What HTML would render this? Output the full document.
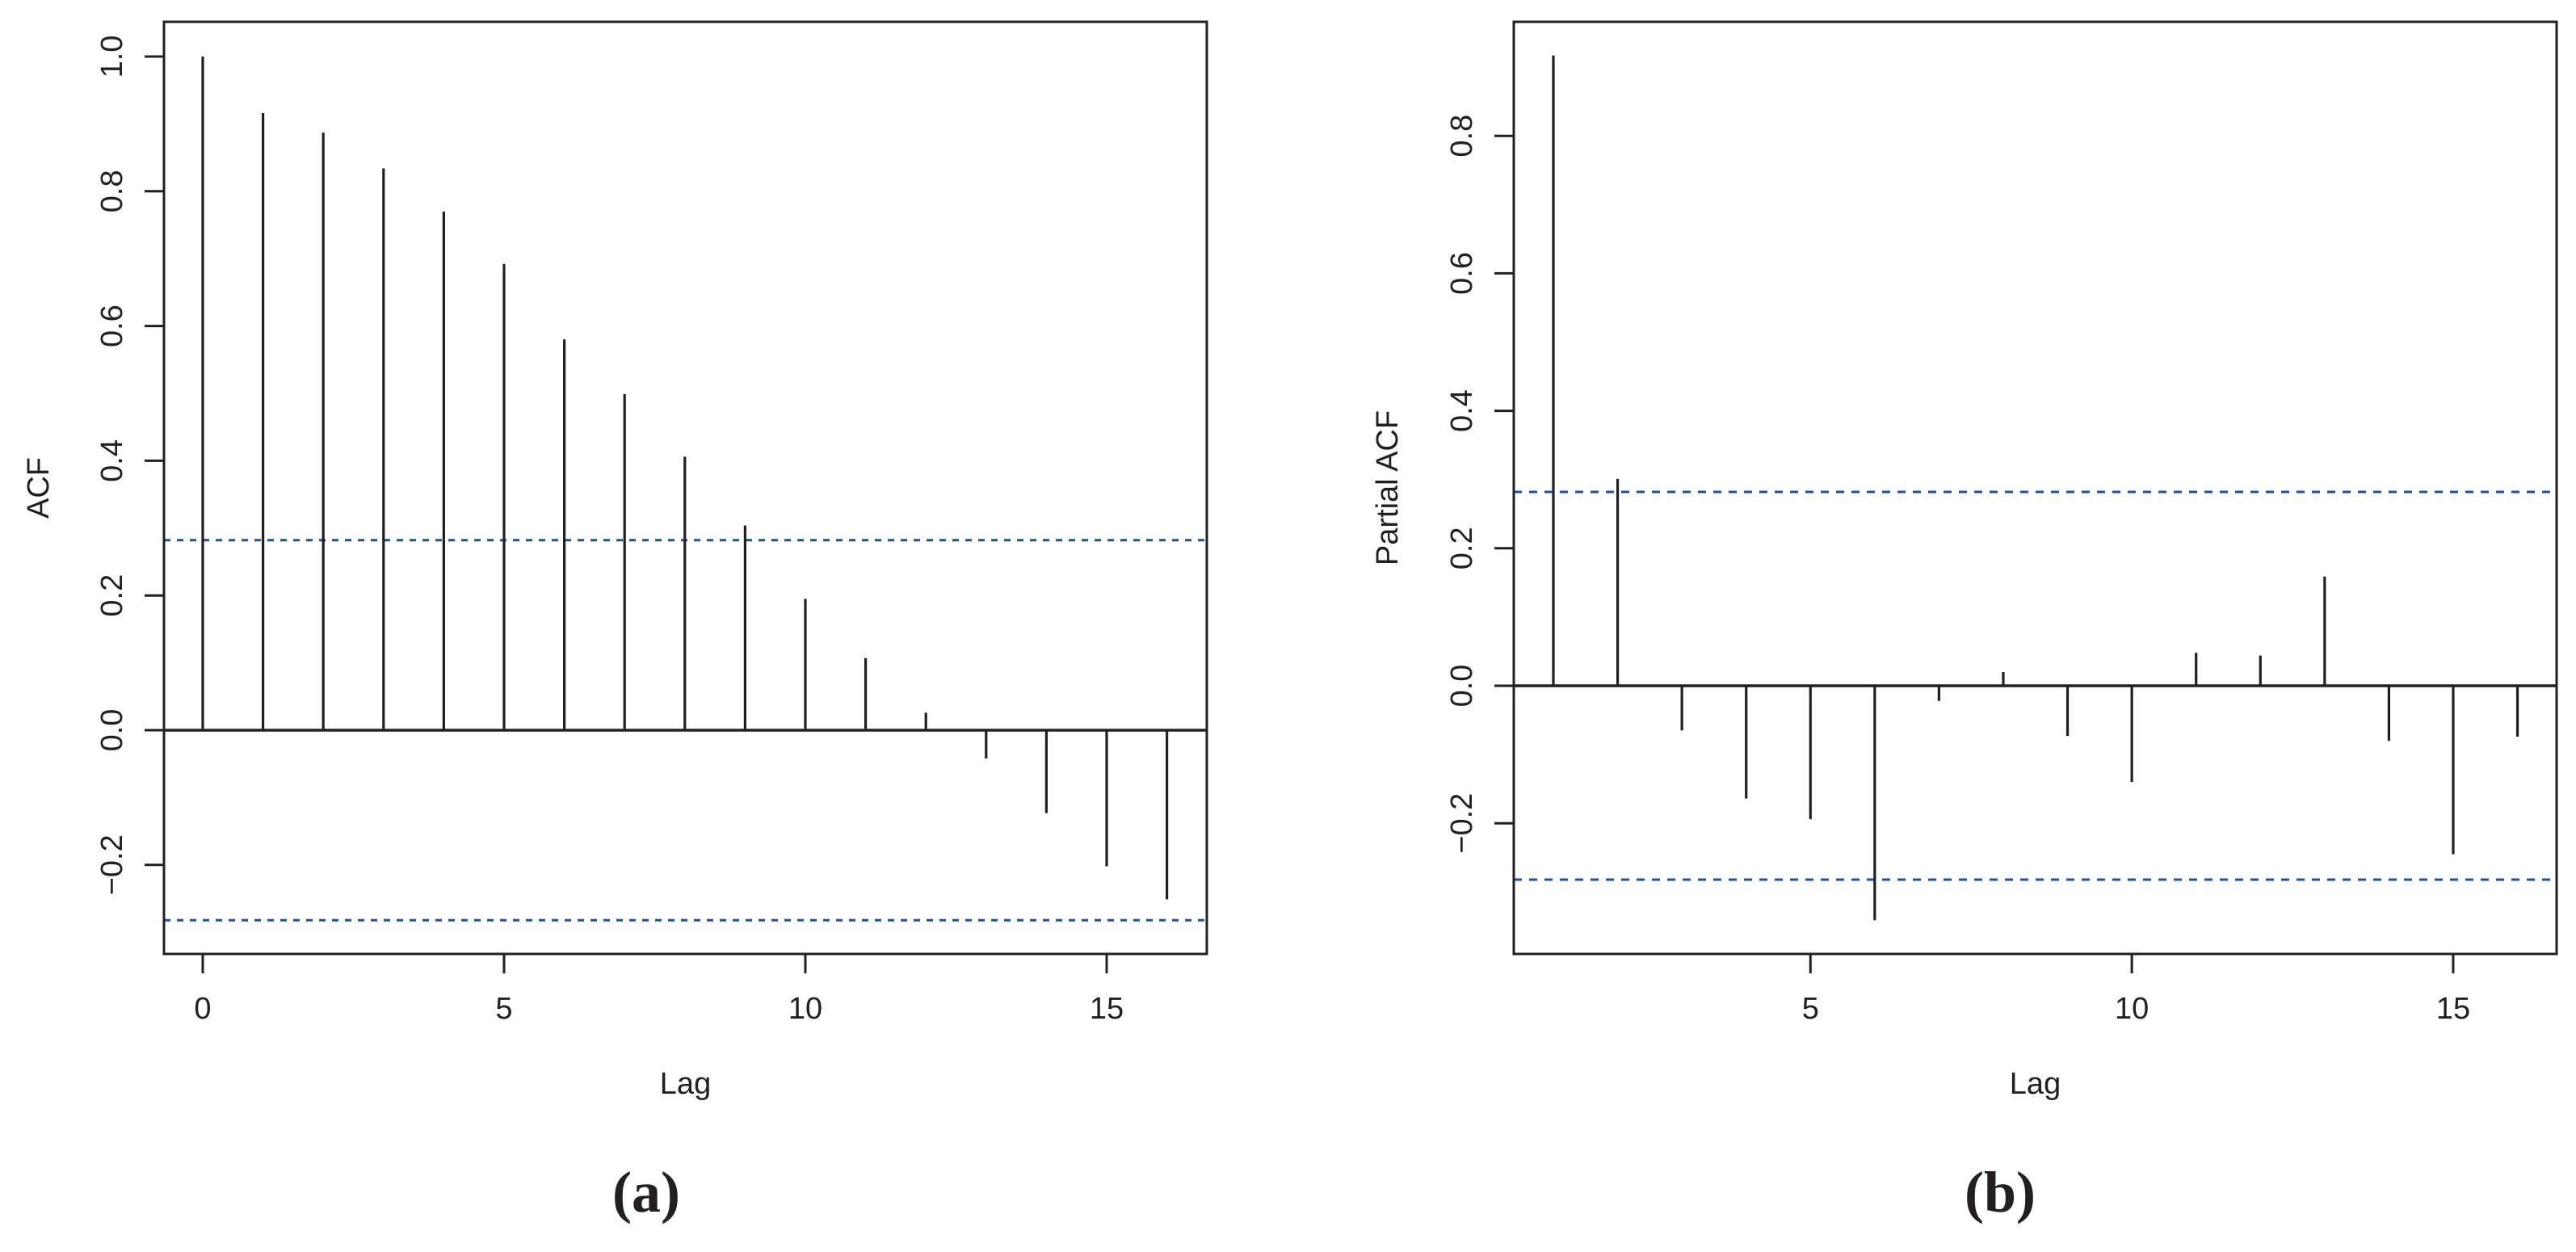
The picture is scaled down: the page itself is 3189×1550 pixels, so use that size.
<!DOCTYPE html>
<html><head><meta charset="utf-8">
<style>
html,body{margin:0;padding:0;background:#fff;}
svg{display:block;}
text{font-family:"Liberation Sans",sans-serif;fill:#231f20;}
.cap{font-family:"Liberation Serif",serif;font-weight:bold;font-size:72px;}
</style></head>
<body>
<svg id="chart" width="3189" height="1550" viewBox="0 0 3189 1550" xmlns="http://www.w3.org/2000/svg"></svg>
<script>
const acfLags = [0,1,2,3,4,5,6,7,8,9,10,11,12,13,14,15,16];
const acfValues = [1.0,0.916,0.887,0.834,0.770,0.692,0.580,0.499,0.406,0.304,0.195,0.107,0.026,-0.042,-0.123,-0.202,-0.251];
const pacfLags = [1,2,3,4,5,6,7,8,9,10,11,12,13,14,15,16];
const pacfValues = [0.917,0.301,-0.065,-0.164,-0.194,-0.341,-0.022,0.020,-0.073,-0.140,0.048,0.044,0.159,-0.080,-0.245,-0.074];
const ciBound = 0.282;
const acfXTicks = [0,5,10,15];
const pacfXTicks = [5,10,15];
const acfYTicks = [-0.2,0.0,0.2,0.4,0.6,0.8,1.0];
const pacfYTicks = [-0.2,0.0,0.2,0.4,0.6,0.8];

const svg = document.getElementById('chart');
const NS = 'http://www.w3.org/2000/svg';
function mk(tag, attrs, parent){const e=document.createElementNS(NS,tag);for(const k in attrs)e.setAttribute(k,attrs[k]);(parent||svg).appendChild(e);return e;}

function panel(cfg){
  const g = mk('g',{});
  
  
  const xs = v => cfg.x0 + (v - cfg.xRef0) * cfg.xStep;
  const ys = v => cfg.yZero - v * cfg.yUnit;
  [ciBound, -ciBound].forEach((c,i)=>{
    const l = mk('line',{x1:cfg.L,x2:cfg.R,y1:ys(c),y2:ys(c),stroke:'#2050a0','stroke-width':3,'stroke-dasharray':cfg.dash},g);
    
    
  });
  const z = mk('line',{x1:cfg.L,x2:cfg.R,y1:ys(0),y2:ys(0),stroke:'#231f20','stroke-width':3.5},g);
  
  
  cfg.lags.forEach((lag,i)=>{
    const s = mk('line',{x1:xs(lag),x2:xs(lag),y1:ys(0),y2:ys(cfg.vals[i]),stroke:'#231f20','stroke-width':3.2},g);
    
    
  });
  const b = mk('rect',{x:cfg.L,y:cfg.T,width:cfg.R-cfg.L,height:cfg.B-cfg.T,fill:'none',stroke:'#231f20','stroke-width':3},g);
  
  
  cfg.xTicks.forEach(t=>{
    const tl = mk('line',{x1:xs(t),x2:xs(t),y1:cfg.B,y2:cfg.B+24,stroke:'#231f20','stroke-width':3},g);
    
    
    const tx = mk('text',{x:xs(t),y:cfg.B+80,'text-anchor':'middle','font-size':38},g);
    tx.textContent = t;
    
    
  });
  cfg.yTicks.forEach(t=>{
    const tl = mk('line',{x1:cfg.L-24,x2:cfg.L,y1:ys(t),y2:ys(t),stroke:'#231f20','stroke-width':3},g);
    
    
    const ty = ys(t), tx0 = cfg.L-52;
    const tx = mk('text',{x:tx0,y:ty,'text-anchor':'middle','font-size':38,transform:`rotate(-90 ${tx0} ${ty})`},g);
    tx.textContent = (t<0?'\u2212':'') + Math.abs(t).toFixed(1);
    
    
  });
  const xt = mk('text',{x:(cfg.L+cfg.R)/2,y:1354,'text-anchor':'middle','font-size':38},g);
  xt.textContent = 'Lag';
  
  
  const yx = cfg.yTitleX, yy = (cfg.T+cfg.B)/2;
  const yt = mk('text',{x:yx,y:yy,'text-anchor':'middle','font-size':38,transform:`rotate(-90 ${yx} ${yy})`},g);
  yt.textContent = cfg.yTitle;
  
  
  const cp = mk('text',{x:cfg.capX,y:1500,'text-anchor':'middle','class':'cap'},g);
  cp.textContent = cfg.cap;
  
  
}

panel({name:'acf-panel',L:203,R:1494,T:27,B:1181,x0:251,xRef0:0,xStep:74.6,yZero:904,yUnit:834,
  lags:acfLags,vals:acfValues,xTicks:acfXTicks,yTicks:acfYTicks,dash:'8 8',yTitle:'ACF',yTitleX:60,cap:'(a)',capX:800});
panel({name:'pacf-panel',L:1874,R:3165,T:27,B:1181,x0:1923,xRef0:1,xStep:79.57,yZero:849,yUnit:851,
  lags:pacfLags,vals:pacfValues,xTicks:pacfXTicks,yTicks:pacfYTicks,dash:'10 9',yTitle:'Partial ACF',yTitleX:1730,cap:'(b)',capX:2476});
</script>
</body></html>
